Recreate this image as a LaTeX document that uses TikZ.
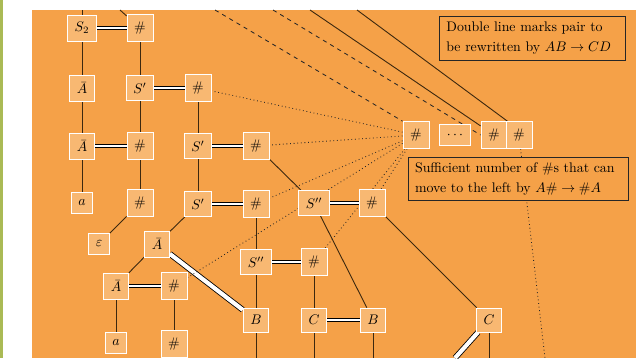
\documentclass[tikz,border=0pt]{standalone}
\definecolor{bgorange}{RGB}{245,161,72}
\definecolor{nodefill}{RGB}{248,184,114}
\definecolor{barcol}{RGB}{170,186,85}
\definecolor{linecol}{RGB}{60,40,15}
\pgfdeclarelayer{back}
\pgfdeclarelayer{lines}
\pgfsetlayers{back,lines,main}
\tikzset{
  sym/.style={draw=white, line width=0.6pt, fill=nodefill, inner sep=5.2pt},
  tl/.style={draw=linecol, line width=0.65pt},
  dbl/.style={draw=black, line width=0.55pt, double=white, double distance=1.2pt},
  thickdbl/.style={draw=black, line width=0.6pt, double=white, double distance=3pt},
  dotl/.style={draw=black!85, dotted, line width=0.6pt},
  dashl/.style={draw=black!85, dashed, line width=0.6pt},
  note/.style={draw=black!85, line width=0.7pt, fill=bgorange, align=left, inner xsep=5pt, inner ysep=4pt, font=\fontsize{10}{14.4}\selectfont}
}
\begin{document}
\begin{tikzpicture}[x=0.72pt,y=-0.72pt]
\useasboundingbox (0,0) rectangle (636,358);
\begin{pgfonlayer}{back}
  \fill[white] (0,0) rectangle (636,358);
  \fill[barcol] (0,0) rectangle (3,358);
  \fill[bgorange] (32,10) rectangle (636,358);
\end{pgfonlayer}
% nodes
\node[sym] (S2) at (82,28) {$S_2$};
\node[sym] (h1) at (140,28) {$\#$};
\node[sym] (Ab1) at (82,88) {$\bar A$};
\node[sym] (Sp1) at (140,88) {$S'$};
\node[sym] (h2) at (198,88) {$\#$};
\node[sym] (Ab2) at (82,146) {$\bar A$};
\node[sym] (h3) at (140,146) {$\#$};
\node[sym] (Sp2) at (198,146) {$S'$};
\node[sym] (h4) at (256,146) {$\#$};
\node[sym] (a1) at (82,203) {$a$};
\node[sym] (h5) at (140,203) {$\#$};
\node[sym] (Sp3) at (198,204) {$S'$};
\node[sym] (h6) at (256,204) {$\#$};
\node[sym] (Spp1) at (314,203) {$S''$};
\node[sym] (h7) at (372,203) {$\#$};
\node[sym] (eps) at (99,244) {$\varepsilon$};
\node[sym] (Ab3) at (157,244) {$\bar A$};
\node[sym] (Ab4) at (116,286) {$\bar A$};
\node[sym] (h8) at (174,286) {$\#$};
\node[sym] (Spp2) at (256,262) {$S''$};
\node[sym] (h9) at (314,262) {$\#$};
\node[sym] (B1) at (256,320) {$B$};
\node[sym] (C1) at (314,320) {$C$};
\node[sym] (B2) at (373,320) {$B$};
\node[sym] (C2) at (489,320) {$C$};
\node[sym] (a2) at (116,343) {$a$};
\node[sym] (h10) at (174,344) {$\#$};
\node[sym] (t1) at (416,135) {$\#$};
\node[sym] (dots) at (455,135) {$\cdots$};
\node[sym] (t2) at (494,135) {$\#$};
\node[sym] (t3) at (519,135) {$\#$};
\node[note, text width=124pt] (n1) at (532.5,38.5) {Double line marks pair to\\be rewritten by $AB\to CD$};
\node[note, text width=149pt] (n2) at (518.5,179) {Sufficient number of \#s that can\\move to the left by $A\#\to\#A$};
% free ends
\coordinate (u1) at (82,10);
\coordinate (u2) at (120,10);
\coordinate (u3) at (215,10);
\coordinate (u4) at (273,10);
\coordinate (u5) at (310,10);
\coordinate (u6) at (357,10);
\coordinate (d1) at (256,358);
\coordinate (d2) at (314,358);
\coordinate (d3) at (373,358);
\coordinate (d4) at (489,358);
\coordinate (d5) at (455,358);
\coordinate (d6) at (545,358);
\begin{pgfonlayer}{lines}
  \draw[tl] (u1) -- (S2);
  \draw[tl] (u2) -- (h1);
  \draw[tl] (S2) -- (Ab1);
  \draw[tl] (Ab1) -- (Ab2);
  \draw[tl] (Ab2) -- (a1);
  \draw[tl] (h1) -- (Sp1);
  \draw[tl] (Sp1) -- (h3);
  \draw[tl] (h3) -- (h5);
  \draw[tl] (h5) -- (eps);
  \draw[tl] (h2) -- (Sp2);
  \draw[tl] (Sp2) -- (Sp3);
  \draw[tl] (Sp3) -- (Ab3);
  \draw[tl] (Ab3) -- (Ab4);
  \draw[tl] (Ab4) -- (a2);
  \draw[tl] (h8) -- (h10);
  \draw[tl] (h4) -- (Spp1);
  \draw[tl] (h6) -- (Spp2);
  \draw[tl] (Spp2) -- (B1);
  \draw[tl] (B1) -- (d1);
  \draw[tl] (h9) -- (C1);
  \draw[tl] (C1) -- (d2);
  \draw[tl] (Spp1) -- (B2);
  \draw[tl] (B2) -- (d3);
  \draw[tl] (h7) -- (C2);
  \draw[tl] (C2) -- (d4);
  % double lines
  \draw[dbl] (S2) -- (h1);
  \draw[dbl] (Sp1) -- (h2);
  \draw[dbl] (Ab2) -- (h3);
  \draw[dbl] (Sp2) -- (h4);
  \draw[dbl] (Sp3) -- (h6);
  \draw[dbl] (Spp1) -- (h7);
  \draw[dbl] (Ab4) -- (h8);
  \draw[dbl] (Spp2) -- (h9);
  \draw[dbl] (C1) -- (B2);
  \draw[thickdbl] (Ab3) -- (B1);
  \draw[thickdbl] (C2) -- (d5);
  % dashed and solid from above
  \draw[dashl] (u3) -- (t1.north west);
  \draw[dashl] (u4) -- (t2.west);
  \draw[tl] (u5) -- (t2);
  \draw[tl] (u6) -- (t2.north east);
  % dotted
  \draw[dotl] (t1) -- (h2);
  \draw[dotl] (t1) -- (h4);
  \draw[dotl] (t1) -- (h6);
  \draw[dotl] (t1) -- (h7);
  \draw[dotl] (t1) -- (h8);
  \draw[dotl] (t1) -- (h9);
  \draw[dotl] (t3) -- (d6);
\end{pgfonlayer}
\end{tikzpicture}
\end{document}
